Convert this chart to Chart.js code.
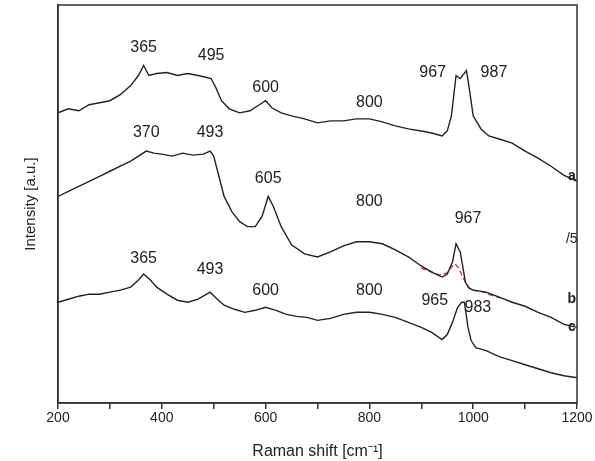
<!DOCTYPE html><html><head><script src="https://cdn.jsdelivr.net/npm/chart.js"></script>
<style>body{margin:0;background:#fff}#w{width:595px;height:461px}</style></head><body><div id="w"><canvas id="c"></canvas></div>
<script>
const shiftA=[200,220,240,260,280,300,320,340,355,365,375,390,410,430,450,470,495,505,515,530,550,570,585,600,612,630,650,675,700,725,750,775,800,825,850,875,900,920,940,950,958,967,975,987,993,1000,1015,1030,1050,1075,1100,1125,1150,1175,1200];
const valA=[288,292,290,296,298,300,306,315,325,335,325,327,328,325,327,325,322,312,300,292,288,290,295,300,293,288,285,282,278,280,280,282,282,279,275,272,270,268,265,270,285,325,322,330,310,285,272,265,262,258,250,243,235,226,220];
const shiftB=[200,220,240,260,280,300,320,340,355,370,385,400,420,440,460,480,493,500,510,520,535,550,565,580,593,605,615,630,650,675,700,725,750,775,800,825,850,875,900,920,940,950,960,967,975,985,992,1000,1025,1050,1075,1100,1125,1150,1175,1200];
const valB=[205,210,215,220,225,230,235,240,245,250,248,247,245,248,246,247,250,245,225,205,190,180,175,175,185,205,195,175,157,148,145,150,156,160,160,158,152,145,136,130,125,128,140,158,150,120,114,112,110,105,100,96,90,85,78,75];
const shiftR=[900,920,935,950,958,965,972,980,990,1000,1020,1040,1055];
const valR=[134,130,127,129,135,138,134,125,115,112,110,106,104];
const shiftC=[200,220,240,260,280,300,320,340,355,365,378,390,410,430,450,470,493,505,520,540,560,580,600,620,640,660,680,700,725,750,775,800,825,850,875,900,920,940,950,960,970,978,983,990,996,1005,1025,1050,1075,1100,1125,1150,1175,1200];
const valC=[100,103,106,108,108,110,112,115,122,128,122,115,108,102,100,103,110,104,97,93,90,92,95,92,88,86,85,82,84,88,90,90,88,85,80,75,70,63,68,80,95,100,100,75,62,55,52,46,42,38,34,30,27,25];
const xTicks=[200,400,600,800,1000,1200];
const peakLabels=[[365,353,"365"],[495,345,"495"],[600,313,"600"],[800,298,"800"],[922,328,"967"],[1040,328,"987"],[370,268,"370"],[493,268,"493"],[605,223,"605"],[800,200,"800"],[990,183,"967"],[365,143,"365"],[493,132,"493"],[600,112,"600"],[800,112,"800"],[926,102,"965"],[1009,95,"983"]];
const curveLabels=[[1190,225,"a","bold"],[1190,163,"/5",""],[1190,103,"b","bold"],[1190,75,"c","bold"]];
const pts=(xs,ys)=>xs.map((x,i)=>({x,y:ys[i]}));
const F='"Liberation Sans", Arial';
const txt={id:'txt',afterDatasetsDraw(ch){const {ctx,scales:{x,y},chartArea:a}=ch;ctx.save();
ctx.strokeStyle='#333';ctx.lineWidth=1.5;ctx.strokeRect(a.left,a.top,a.width,a.height);
ctx.fillStyle='#222';ctx.textAlign='center';ctx.textBaseline='middle';
ctx.font='16px '+F;peakLabels.forEach(p=>ctx.fillText(p[2],x.getPixelForValue(p[0]),y.getPixelForValue(p[1])));
curveLabels.forEach(p=>{ctx.font=(p[3]?'bold ':'')+'14px '+F;ctx.fillText(p[2],x.getPixelForValue(p[0]),y.getPixelForValue(p[1]));});
ctx.restore();}};
const ds=(d,c,dash)=>({data:d,borderColor:c,borderWidth:1.4,pointRadius:0,tension:0,borderDash:dash||[]});
new Chart(document.getElementById('c'),{type:'line',data:{datasets:[ds(pts(shiftA,valA),'#222'),ds(pts(shiftB,valB),'#222'),ds(pts(shiftR,valR),'#e0303a',[5,3]),ds(pts(shiftC,valC),'#222')]},
options:{responsive:true,maintainAspectRatio:false,animation:false,layout:{padding:{top:5,right:18,left:18,bottom:0}},
plugins:{legend:{display:false},tooltip:{enabled:false}},
scales:{x:{type:'linear',min:200,max:1200,grid:{display:true,drawOnChartArea:false,drawTicks:true,tickLength:6,color:'#333',lineWidth:1.5},border:{color:'#333',width:1.5},
ticks:{stepSize:100,color:'#222',padding:1,font:{size:14,family:F},callback:v=>xTicks.includes(v)?v:''},
title:{display:true,text:'Raman shift [cm⁻¹]',color:'#222',padding:{top:14,bottom:0},font:{size:16,family:F}}},
y:{min:0,max:395,grid:{display:false,drawTicks:false},border:{color:'#333',width:1.5},ticks:{display:false},
title:{display:true,text:'Intensity [a.u.]',color:'#222',font:{size:15,family:F},padding:{bottom:18}}}}},plugins:[txt]});
</script></body></html>
